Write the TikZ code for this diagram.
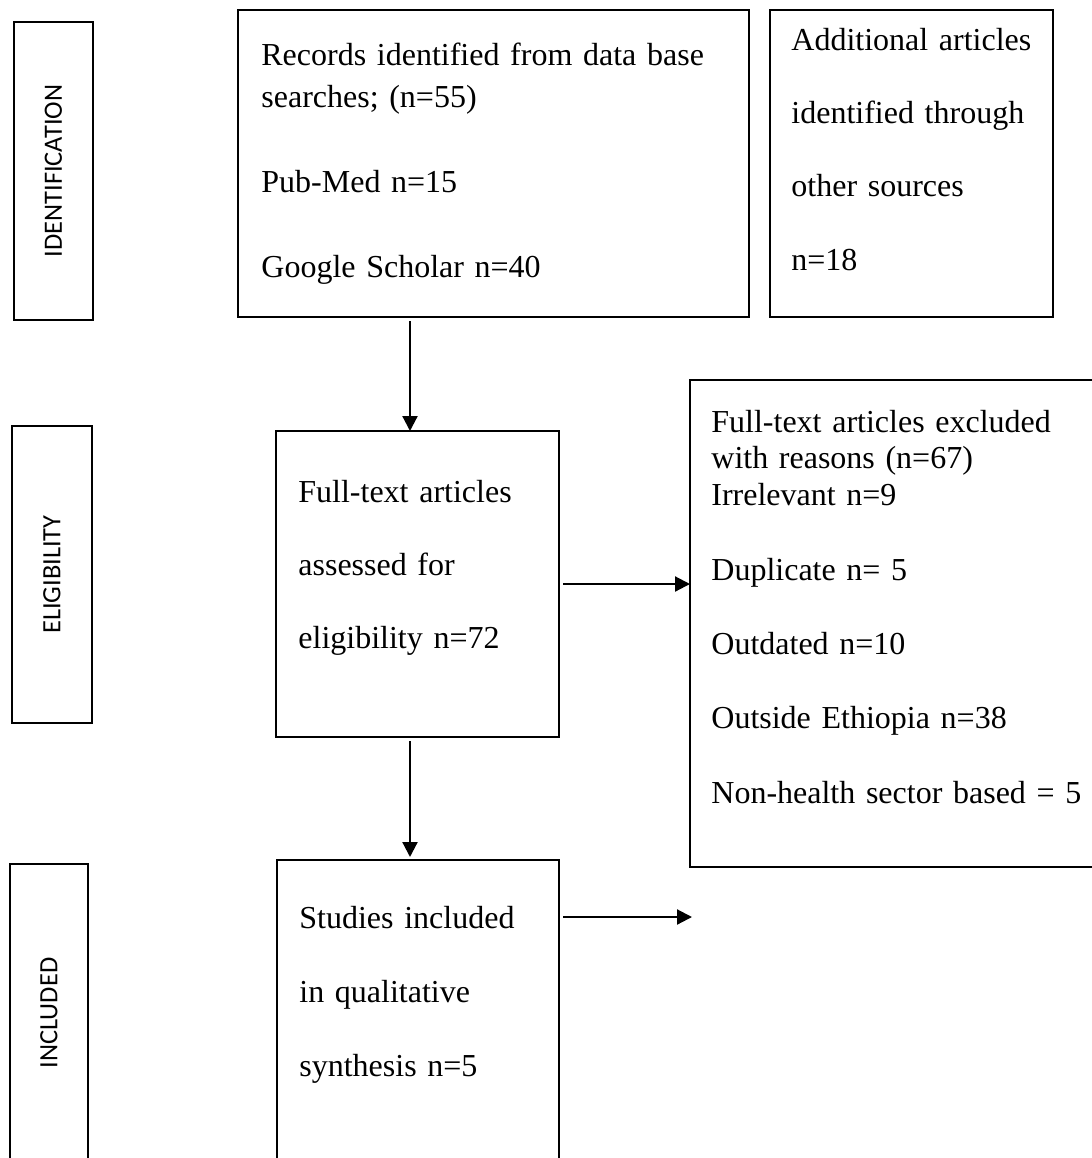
\documentclass[tikz,border=0pt]{standalone}
\usepackage{fontspec}
\setmainfont{Liberation Serif}
\newfontfamily\sidefont{Carlito}
\usetikzlibrary{arrows.meta}

\begin{document}
\begin{tikzpicture}[x=0.5pt, y=-0.5pt, >={Triangle[length=7.5pt,width=7.5pt]},
        box/.style={draw, line width=1.2pt, outer sep=0pt, inner sep=0pt},
        side/.style={box, rotate=90, font=\sidefont\fontsize{13.2pt}{15pt}\selectfont},
        txt/.style={anchor=base west, inner sep=0pt, text width=240pt, align=left,
            font=\fontsize{16pt}{18.4pt}\selectfont},
        flow/.style={->, line width=1.1pt, shorten <=2pt}]
        \path[use as bounding box, clip] (0,0) rectangle (1092,1158);

        % stage labels
        \node[side, minimum width=149pt, minimum height=39.5pt] (id) at (53.5,171) {IDENTIFICATION};
        \node[side, minimum width=148.5pt, minimum height=40pt] (el) at (52,574.5) {ELIGIBILITY};
        \node[side, minimum width=149pt, minimum height=39pt] (inc) at (49,1013) {INCLUDED};

        % boxes
        \node[box, minimum width=255.5pt, minimum height=153.5pt] (rec) at (493.5,163.5) {};
        \node[box, minimum width=141.5pt, minimum height=153.5pt] (add) at (911.5,163.5) {};
        \node[box, minimum width=141.5pt, minimum height=153pt] (ft) at (417.5,584) {};
        \node[box, minimum width=205pt, minimum height=243.5pt] (exc) at (895,623.5) {};
        \node[box, minimum width=141pt, minimum height=160pt] (stu) at (418,1020) {};

        % box texts
        \node[txt, xshift=11.5pt, yshift=-27.5pt] (rect) at (rec.north west)
            {Records identified from data base\\[2.6pt]
             searches; (n=55)\\[24.1pt]
             Pub-Med n=15\\[24.1pt]
             Google Scholar n=40};
        \node[txt, xshift=10.5pt, yshift=-20pt] (addt) at (add.north west)
            {Additional articles\\[18.3pt]
             identified through\\[18.3pt]
             other sources\\[18.3pt]
             n=18};
        \node[txt, xshift=11pt, yshift=-35.5pt] (ftt) at (ft.north west)
            {Full-text articles\\[18.1pt]
             assessed for\\[18.1pt]
             eligibility n=72};
        \node[txt, xshift=10.5pt, yshift=-26pt] (exct) at (exc.north west)
            {Full-text articles excluded\\
             with reasons (n=67)\\
             Irrelevant n=9\\[18.8pt]
             Duplicate n= 5\\[18.8pt]
             Outdated n=10\\[18.8pt]
             Outside Ethiopia n=38\\[18.8pt]
             Non-health sector based = 5};
        \node[txt, xshift=11pt, yshift=-34pt] (stut) at (stu.north west)
            {Studies included\\[18.6pt]
             in qualitative\\[18.6pt]
             synthesis n=5};

        \coordinate (mid) at (410,0);
        \coordinate (out) at (692,917);

        \path[flow]
        (mid |- rec.south) edge (mid |- ft.north)
        (ft.east) edge (ft.east -| exc.west)
        (mid |- ft.south) edge [shorten >=1.5pt] (mid |- stu.north)
        (out -| stu.east) edge (out);

    \end{tikzpicture}
\end{document}
